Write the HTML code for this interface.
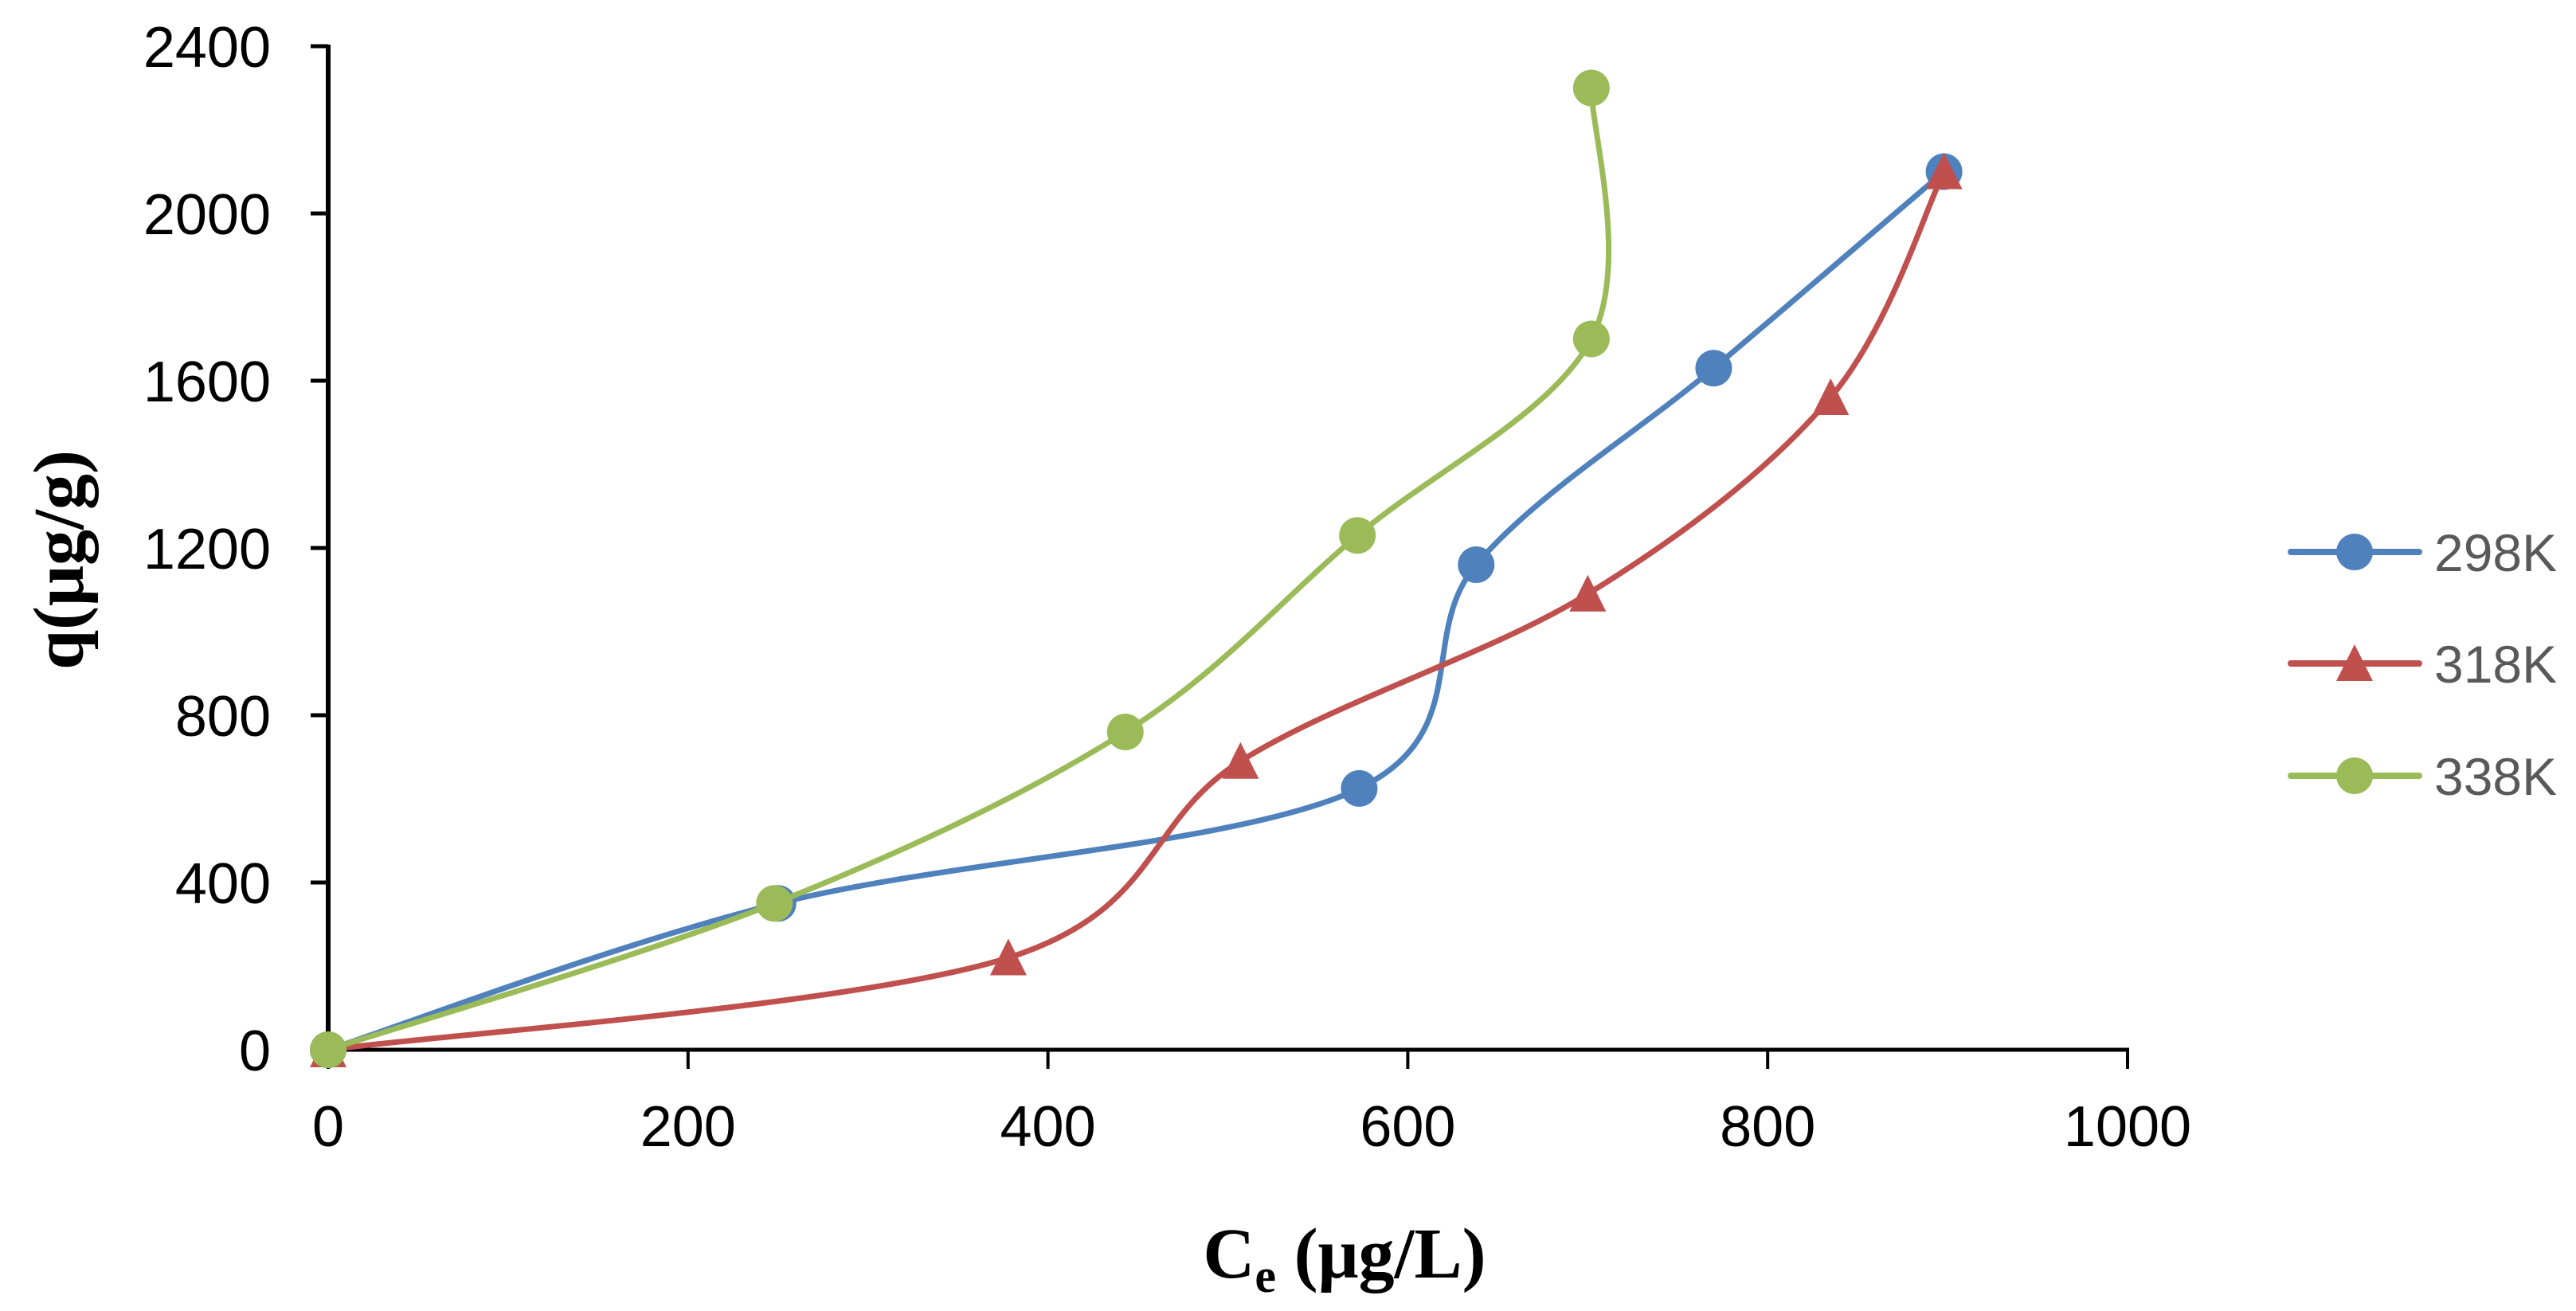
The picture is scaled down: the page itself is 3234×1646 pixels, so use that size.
<!DOCTYPE html>
<html><head><meta charset="utf-8"><style>
html,body{margin:0;padding:0;background:#fff;}
svg{display:block;}
</style></head><body>
<svg id="chart" width="3234" height="1646" viewBox="0 0 3234 1646" xmlns="http://www.w3.org/2000/svg">
<g id="axes"></g>
<g id="series"></g>
<g id="legend"></g>
<text transform="translate(104,703) rotate(-90)" text-anchor="middle" font-family="Liberation Serif, serif" font-weight="bold" font-size="90">q(μg/g)</text>
<text x="1688" y="1604" text-anchor="middle" font-family="Liberation Serif, serif" font-weight="bold" font-size="90">C<tspan font-size="60" dy="18">e</tspan><tspan dy="-18"> (μg/L)</tspan></text>
</svg>
<script>
const xTicks = [0, 200, 400, 600, 800, 1000];
const yTicks = [0, 400, 800, 1200, 1600, 2000, 2400];
const seriesNames = ["298K", "318K", "338K"];
const x298 = [0, 250, 573, 638, 770, 898];
const y298 = [0, 350, 625, 1160, 1630, 2100];
const x318 = [0, 378, 507, 700, 835, 898];
const y318 = [0, 220, 690, 1090, 1560, 2100];
const x338 = [0, 248, 443, 572, 702, 702];
const y338 = [0, 350, 760, 1230, 1700, 2300];

const NS = "http://www.w3.org/2000/svg";
const X0 = 412, X1 = 2671, Y0 = 1318, Y1 = 58;
const sx = v => X0 + (v - 0) / 1000 * (X1 - X0);
const sy = v => Y0 - (v - 0) / 2400 * (Y0 - Y1);
function mk(tag, attrs, parent) {
  const e = document.createElementNS(NS, tag);
  for (const k in attrs) e.setAttribute(k, attrs[k]);
  parent.appendChild(e);
  return e;
}
const axes = document.getElementById('axes');
const yl = mk('line', {x1: X0, y1: Y1 - 2, x2: X0, y2: Y0 + 3, stroke: '#000', 'stroke-width': 6}, axes);


const xl = mk('line', {x1: X0, y1: Y0, x2: X1 + 2, y2: Y0, stroke: '#000', 'stroke-width': 5}, axes);


yTicks.forEach(t => {
  const y = sy(t);
  const tk = mk('line', {x1: X0 - 22, y1: y, x2: X0, y2: y, stroke: '#000', 'stroke-width': 5}, axes);
  
  
  const lb = mk('text', {x: 340, y: y + 26, 'text-anchor': 'end', 'font-family': 'Liberation Sans, sans-serif', 'font-size': 72, fill: '#000'}, axes);
  lb.textContent = t;
  
  
});
xTicks.forEach(t => {
  const x = sx(t);
  const tk = mk('line', {x1: x, y1: Y0, x2: x, y2: Y0 + 24, stroke: '#000', 'stroke-width': 4}, axes);
  
  
  const lb = mk('text', {x: x, y: 1439, 'text-anchor': 'middle', 'font-family': 'Liberation Sans, sans-serif', 'font-size': 72, fill: '#000'}, axes);
  lb.textContent = t;
  
  
});

function smoothPath(xs, ys) {
  const p = xs.map((x, i) => [sx(x), sy(ys[i])]);
  let d = 'M' + p[0][0] + ',' + p[0][1];
  for (let i = 0; i < p.length - 1; i++) {
    const a = p[Math.max(i - 1, 0)], b = p[i], c = p[i + 1], e = p[Math.min(i + 2, p.length - 1)];
    const c1 = [b[0] + (c[0] - a[0]) / 6, b[1] + (c[1] - a[1]) / 6];
    const c2 = [c[0] - (e[0] - b[0]) / 6, c[1] - (e[1] - b[1]) / 6];
    d += ' C' + c1 + ' ' + c2 + ' ' + c;
  }
  return d;
}
function marker(g, kind, x, y, color) {
  let m;
  if (kind === 'circle') m = mk('circle', {cx: x, cy: y, r: 23, fill: color}, g);
  else m = mk('polygon', {points: (x) + ',' + (y - 24) + ' ' + (x - 23) + ',' + (y + 22) + ' ' + (x + 23) + ',' + (y + 22), fill: color}, g);
  return m;
}
const seriesDefs = [
  {xs: x298, ys: y298, color: '#4F81BD', kind: 'circle'},
  {xs: x318, ys: y318, color: '#C0504D', kind: 'tri'},
  {xs: x338, ys: y338, color: '#9BBB59', kind: 'circle'}
];
const sg = document.getElementById('series');
seriesDefs.forEach((s, si) => {
  const g = mk('g', {}, sg);
  
  
  const path = mk('path', {d: smoothPath(s.xs, s.ys), fill: 'none', stroke: s.color, 'stroke-width': 7, 'stroke-linecap': 'round'}, g);
  
  
  s.xs.forEach((x, i) => {
    const m = marker(g, s.kind, sx(x), sy(s.ys[i]), s.color);
    
    
  });
});
const lg = document.getElementById('legend');
const rows = [693, 833, 974];
seriesDefs.forEach((s, si) => {
  const g = mk('g', {}, lg);
  
  
  const y = rows[si];
  mk('line', {x1: 2876, y1: y, x2: 3037, y2: y, stroke: s.color, 'stroke-width': 8, 'stroke-linecap': 'round'}, g);
  marker(g, s.kind, 2956, y, s.color);
  const t = mk('text', {x: 3056, y: y + 24, 'font-family': 'Liberation Sans, sans-serif', 'font-size': 66, fill: '#595959'}, g);
  t.textContent = seriesNames[si];
  
  
});
</script>
</body></html>
